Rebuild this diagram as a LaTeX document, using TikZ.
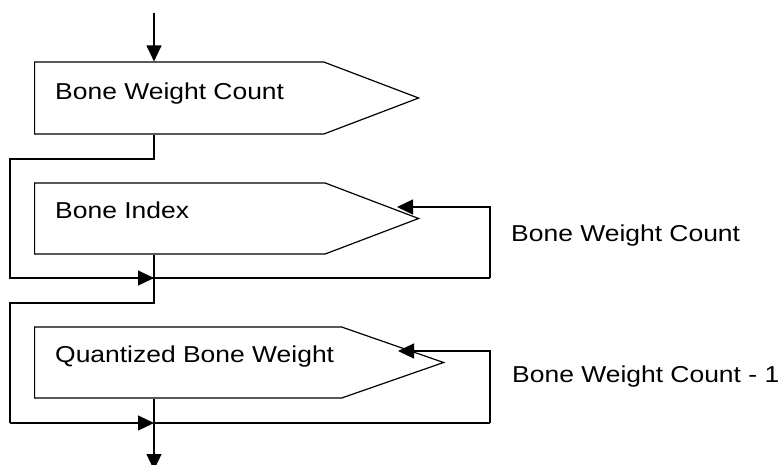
\documentclass[tikz,border=0pt]{standalone}
\usepackage{fontspec}
\setmainfont[FakeStretch=1.15]{Liberation Sans}
\usepackage{tikz}
\usetikzlibrary{calc,arrows.meta,positioning,shapes.symbols}

\tikzset{
  field/.style={draw, signal, signal to=east, anchor=west, inner sep=0pt, minimum height=72pt, line width=1.2pt},
  flow/.style={line width=1.2pt, -{Triangle[length=16pt,width=15pt]}},
  wire/.style={line width=1.2pt},
  txt/.style={anchor=base west, inner sep=0pt, font=\fontsize{23}{27}\selectfont}
}

\begin{document}
\begin{tikzpicture}[x=1pt,y=-1pt]
\useasboundingbox (0,0) rectangle (779,464);
% boxes
\node[field, minimum width=384pt, signal pointer angle=41.6] (count) at (34,98) {};
\node[field, minimum width=384pt, minimum height=71pt, signal pointer angle=41.6] (index) at (34,218.5) {};
\node[field, minimum width=409pt, minimum height=71pt, signal pointer angle=38.4] (weight) at (34,362.5) {};
\node[txt] (countlbl) at (55,99) {Bone Weight Count};
\node[txt] (indexlbl) at (55,218) {Bone Index};
\node[txt] (weightlbl) at (55,362) {Quantized Bone Weight};
\node[txt] (rep1) at (511,241) {Bone Weight Count};
\node[txt] (rep2) at (512,382) {Bone Weight Count - 1};
% points on the spine and loops
\coordinate (start) at (154,13);
\coordinate (join1) at (154,278);
\coordinate (join2) at (154,423);
\coordinate (finish) at (154,470);
\coordinate (in1) at (397,207);
\coordinate (in2) at (398,351);
% connectors
\draw[flow] (start) -- (start |- count.north);
\draw[wire] (start |- count.south) -- (154,159) -- (10,159) -- (10,278) -- (join1);
\draw[flow] (10,278) -- (join1);
\draw[flow] (490,278) -- (490,207) -- (in1);
\draw[wire] (join1) -- (490,278);
\draw[wire] (start |- index.south) -- (154,303) -- (10,303) -- (10,423);
\draw[flow] (10,423) -- (join2);
\draw[flow] (490,423) -- (490,351) -- (in2);
\draw[wire] (join2) -- (490,423);
\draw[wire] (start |- weight.south) -- (join2);
\draw[flow] (join2) -- (finish);
\end{tikzpicture}
\end{document}
